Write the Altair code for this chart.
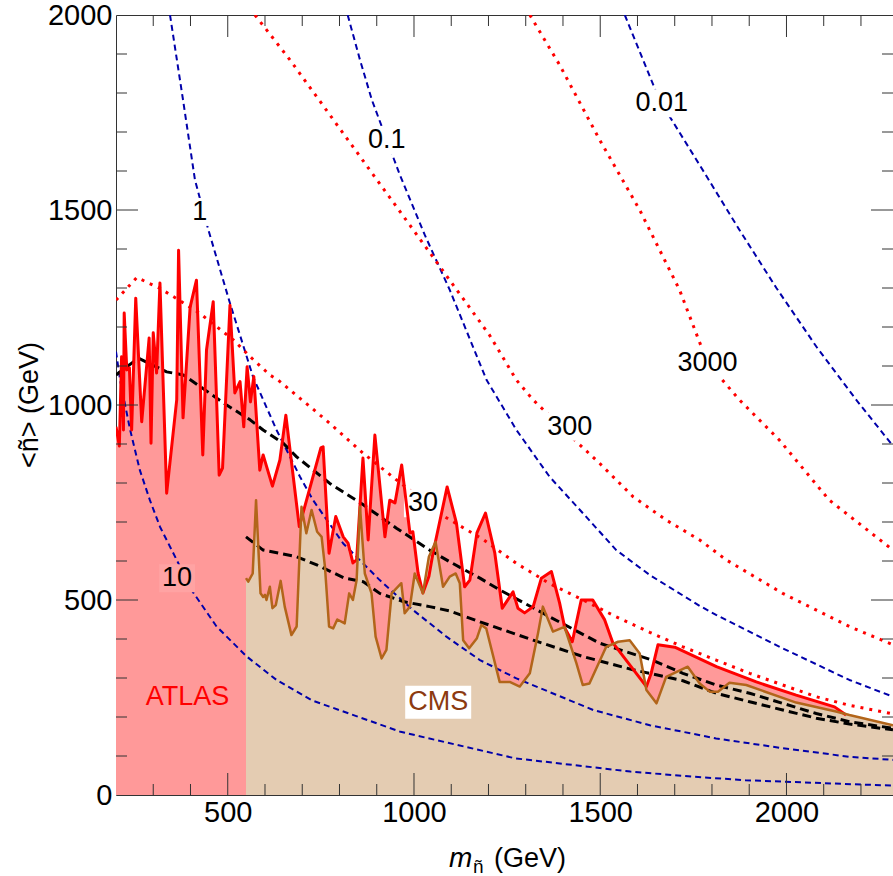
import altair as alt
import pandas as pd

# ---------------- data ----------------
atlas_x = [200, 209, 215, 220, 222, 229, 236, 242, 253, 269, 289, 294, 300, 309, 318, 336, 363, 368, 380, 399,
           416, 433, 443, 461, 477, 486, 506, 519, 533, 543, 552, 561, 570, 586, 595, 620, 640, 656, 692, 750,
           756, 772, 790, 810, 823, 836, 846, 863, 877, 895, 922, 935, 949, 967, 989, 997, 1011, 1024, 1040, 1051,
           1089, 1114, 1136, 1150, 1169, 1192, 1217, 1237, 1266, 1279, 1297, 1320, 1342, 1369, 1391, 1405, 1425, 1449, 1480, 1512,
           1534, 1624, 1637, 1655, 1700, 1812, 1919, 2026, 2129, 2160]
atlas_y = [944, 895, 1124, 936, 1236, 1090, 1095, 936, 1274, 957, 1172, 902, 1185, 1082, 1313, 774, 1013, 1397, 967, 1251,
           1320, 872, 1141, 1265, 820, 838, 1256, 1031, 1060, 944, 1098, 1008, 1073, 833, 872, 792, 859, 974, 688, 890,
           893, 620, 714, 662, 646, 595, 603, 864, 654, 923, 662, 756, 749, 846, 672, 675, 569, 518, 560, 620,
           790, 697, 534, 551, 672, 723, 620, 479, 521, 479, 467, 483, 556, 573, 492, 428, 393, 500, 500, 449,
           390, 278, 313, 385, 379, 329, 290, 256, 226, 205]

cms_x = [549, 555, 567, 576, 588, 595, 600, 604, 613, 620, 629, 642, 653, 671, 685, 698, 711, 725, 740, 752,
         761, 772, 783, 794, 814, 826, 836, 846, 855, 868, 886, 897, 913, 926, 940, 966, 975, 989, 1002, 1024,
         1040, 1058, 1078, 1096, 1112, 1123, 1132, 1148, 1169, 1181, 1194, 1230, 1257, 1284, 1311, 1333, 1346, 1373, 1404, 1436,
         1453, 1471, 1516, 1548, 1579, 1606, 1624, 1651, 1677, 1735, 1767, 1794, 1816, 1847, 1892, 2026, 2133, 2169, 2286]
cms_y = [556, 547, 568, 756, 517, 508, 513, 500, 534, 479, 487, 549, 483, 410, 432, 739, 671, 731, 675, 662,
         585, 432, 427, 450, 440, 517, 500, 551, 739, 568, 517, 406, 350, 372, 517, 543, 466, 483, 568, 517,
         611, 649, 534, 560, 568, 543, 397, 376, 402, 436, 427, 290, 290, 278, 312, 415, 483, 419, 431, 338,
         282, 286, 380, 393, 397, 363, 269, 235, 303, 329, 286, 265, 265, 288, 282, 237, 214, 205, 179]

# expected limits (black dashed)
atlas_exp_x = [200, 260, 336, 381, 452, 497, 560, 595, 649, 685, 774, 864, 953, 1042, 1096, 1177, 1230, 1364,
               1499, 1642, 1722, 1811, 1901, 1990, 2080, 2169, 2286]
atlas_exp_y = [1077, 1120, 1085, 1077, 1030, 1000, 962, 936, 902, 867, 799, 744, 684, 628, 598, 556, 526, 457,
               389, 345, 312, 282, 261, 235, 209, 188, 171]
cms_exp_x = [549, 595, 685, 739, 814, 864, 908, 971, 1042, 1096, 1177, 1320, 1454, 1588, 1633, 1722, 1811, 1901,
             1990, 2080, 2169, 2286]
cms_exp_y = [662, 628, 611, 590, 556, 547, 517, 496, 483, 472, 444, 397, 355, 321, 312, 293, 261, 239,
             218, 197, 182, 167]

# blue dashed contours
c10_x = [200, 211, 238, 264, 291, 318, 406, 470, 551, 631, 725, 964, 1272, 1581, 1748, 1890, 1995, 2286]
c10_y = [1137, 1064, 936, 833, 756, 688, 521, 432, 355, 295, 243, 162, 94, 60, 47, 38, 34, 24]
c1_x = [345, 380, 412, 448, 506, 568, 631, 694, 729, 810, 908, 998, 1087, 1177, 1275, 1481, 1633, 1811, 1990, 2169, 2286]
c1_y = [2000, 1782, 1577, 1449, 1261, 1072, 936, 816, 756, 645, 551, 474, 406, 346, 299, 218, 179, 145, 120, 98, 90]
c01_x = [822, 855, 887, 962, 1029, 1096, 1195, 1275, 1364, 1454, 1543, 1633, 1767, 1811, 1990, 2169, 2286]
c01_y = [2000, 1885, 1782, 1590, 1436, 1295, 1064, 936, 816, 722, 628, 564, 485, 462, 376, 295, 252]
c001_x = [1566, 1659, 1780, 1873, 1973, 2080, 2190, 2286]
c001_y = [2000, 1782, 1595, 1450, 1300, 1150, 1010, 895]

# red dotted contours
r30_x = [200, 256, 318, 354, 425, 470, 515, 560, 613, 635, 694, 712, 774, 864, 953, 1078, 1186, 1275, 1364, 1454,
         1543, 1633, 1722, 1811, 1901, 1990, 2080, 2169, 2286]
r30_y = [1269, 1327, 1299, 1278, 1235, 1201, 1167, 1124, 1077, 1064, 1017, 1003, 953, 876, 808, 716, 655, 594, 542, 500,
         457, 417, 380, 346, 312, 282, 252, 230, 208]
r300_x = [573, 667, 774, 881, 989, 1096, 1203, 1275, 1320, 1436, 1499, 1588, 1677, 1767, 1838, 1990, 2169, 2286]
r300_y = [2000, 1885, 1744, 1603, 1461, 1320, 1179, 1064, 1013, 906, 850, 765, 705, 654, 603, 517, 432, 385]
r3000_x = [1311, 1391, 1499, 1606, 1713, 1788, 1874, 1981, 2115, 2286]
r3000_y = [2000, 1872, 1679, 1500, 1295, 1108, 1013, 910, 756, 628]

# contour labels
label_text = ["10", "1", "0.1", "0.01", "30", "300", "3000"]
label_x = [364, 425, 927, 1665, 1024, 1418, 1788]
label_y = [556, 1495, 1679, 1774, 748, 944, 1108]
box_w = [36, 22, 44, 58, 38, 52, 66]
box_col = ["#ffa3a3", "white", "white", "white", "white", "white", "white"]

# axis ticks
x_major = [500, 1000, 1500, 2000]
x_minor = [300, 400, 600, 700, 800, 900, 1100, 1200, 1300, 1400, 1600, 1700, 1800, 1900, 2100, 2200]
y_major = [500, 1000, 1500]
y_minor = [100, 200, 300, 400, 600, 700, 800, 900, 1100, 1200, 1300, 1400, 1600, 1700, 1800, 1900]
y_labels = [0, 500, 1000, 1500, 2000]

# ---------------- chart ----------------
W, H = 777, 780
FONT = "Liberation Sans"
xs = alt.Scale(domain=[200, 2286], nice=False, zero=False)
ys = alt.Scale(domain=[0, 2000], nice=False, zero=False)

xaxis = alt.Axis(values=x_major, format="d", ticks=False, grid=False, domain=False, labelFontSize=29, labelFont=FONT,
                 labelColor="black", labelPadding=3, labelFlush=False, title=None)
yaxis = alt.Axis(values=y_labels, format="d", ticks=False, grid=False, domain=False, labelFontSize=29, labelFont=FONT,
                 labelColor="black", labelPadding=4, labelFlush=False, title=None)


def X(f="x"):
    return alt.X(f"{f}:Q", scale=xs, axis=xaxis, title=None)


def Y(f="y"):
    return alt.Y(f"{f}:Q", scale=ys, axis=yaxis, title=None, stack=None)


def xy(x, y):
    return pd.DataFrame({"x": x, "y": y})


def line(x, y, color, width, dash=None):
    kw = dict(color=color, strokeWidth=width, clip=True, strokeCap="butt", strokeJoin="round")
    if dash:
        kw["strokeDash"] = dash
    return alt.Chart(xy(x, y)).mark_line(**kw).encode(x=X(), y=Y())


def area(x, y, color):
    return alt.Chart(xy(x, y)).mark_area(color=color, opacity=1, clip=True, interpolate="linear").encode(x=X(), y=Y())


layers = [area(atlas_x, atlas_y, "#ff9999"), area(cms_x, cms_y, "#e4ccb2")]

BLUE = "#0000aa"
for cx, cy in [(c10_x, c10_y), (c1_x, c1_y), (c01_x, c01_y), (c001_x, c001_y)]:
    layers.append(line(cx, cy, BLUE, 2, [6, 4]))
for cx, cy in [(r30_x, r30_y), (r300_x, r300_y), (r3000_x, r3000_y)]:
    layers.append(line(cx, cy, "#ff0000", 3, [3, 6]))

# label background boxes
for t, lx, ly, w, c in zip(label_text, label_x, label_y, box_w, box_col):
    r = round(28 / w, 4)
    path = f"M-1,{-r}H1V{r}H-1Z"
    layers.append(
        alt.Chart(xy([lx], [ly]))
        .mark_point(shape=path, size=w * w, filled=True, color=c, opacity=1, strokeWidth=0)
        .encode(x=X(), y=Y())
    )

layers.append(line(atlas_exp_x, atlas_exp_y, "black", 3, [9, 5]))
layers.append(line(cms_exp_x, cms_exp_y, "black", 3, [9, 5]))
layers.append(line(atlas_x, atlas_y, "#ff0000", 3))
layers.append(line(cms_x, cms_y, "#b2651a", 2.5))

layers.append(
    alt.Chart(pd.DataFrame({"t": label_text, "x": label_x, "y": label_y}))
    .mark_text(font=FONT, fontSize=27, color="black", align="center", baseline="middle")
    .encode(x=X(), y=Y(), text="t:N")
)

# ATLAS / CMS tags
layers.append(
    alt.Chart(xy([1065], [238]))
    .mark_point(shape="M-1,-0.5H1V0.5H-1Z", size=66 * 66, filled=True, color="white", opacity=1, strokeWidth=0)
    .encode(x=X(), y=Y())
)
layers.append(
    alt.Chart(pd.DataFrame({"t": ["ATLAS", "CMS"], "x": [392, 1065], "y": [252, 238], "c": ["ATLAS", "CMS"]}))
    .mark_text(font=FONT, fontSize=27, align="center", baseline="middle")
    .encode(x=X(), y=Y(), text="t:N",
            color=alt.Color("c:N", scale=alt.Scale(domain=["ATLAS", "CMS"], range=["#ff0000", "#8c3a10"]), legend=None))
)

# inward ticks on all four sides
TC = "#333333"


def xticks(vals, length):
    d = pd.DataFrame({"x": vals})
    b = alt.Chart(d).mark_rule(color=TC, strokeWidth=1).encode(x=X(), y=alt.value(H), y2=alt.value(H - length))
    t = alt.Chart(d).mark_rule(color=TC, strokeWidth=1).encode(x=X(), y=alt.value(0), y2=alt.value(length))
    return [b, t]


def yticks(vals, length):
    d = pd.DataFrame({"y": vals})
    l = alt.Chart(d).mark_rule(color=TC, strokeWidth=1).encode(y=Y(), x=alt.value(0), x2=alt.value(length))
    r = alt.Chart(d).mark_rule(color=TC, strokeWidth=1).encode(y=Y(), x=alt.value(W), x2=alt.value(W - length))
    return [l, r]


layers += xticks(x_major, 22) + xticks(x_minor, 11) + yticks(y_major, 22) + yticks(y_minor, 11)


# axis titles
def txt(s, x, y, size, angle=0, style="normal", align="left", baseline="alphabetic"):
    kw = dict(font=FONT, fontSize=size, color="black", align=align, baseline=baseline, fontStyle=style)
    if angle:
        kw["angle"] = angle
    return alt.Chart(pd.DataFrame({"t": [s]})).mark_text(**kw).encode(
        text="t:N", x=alt.value(x), y=alt.value(y))


layers.append(txt("m", 333, 852, 28, style="italic"))
layers.append(txt("ñ", 357, 858, 19))
layers.append(txt("(GeV)", 378, 852, 27))
layers.append(txt("<ñ> (GeV)", -86, 390, 27, angle=270, align="center", baseline="middle"))

chart = (
    alt.layer(*layers)
    .properties(width=W, height=H, padding={"left": 116, "top": 15, "right": 0, "bottom": 81},
                autosize=alt.AutoSizeParams(type="none"), background="white")
    .configure_view(stroke=TC, strokeWidth=1)
)

chart.save("out.html", embed_options={"renderer": "svg", "actions": False})
